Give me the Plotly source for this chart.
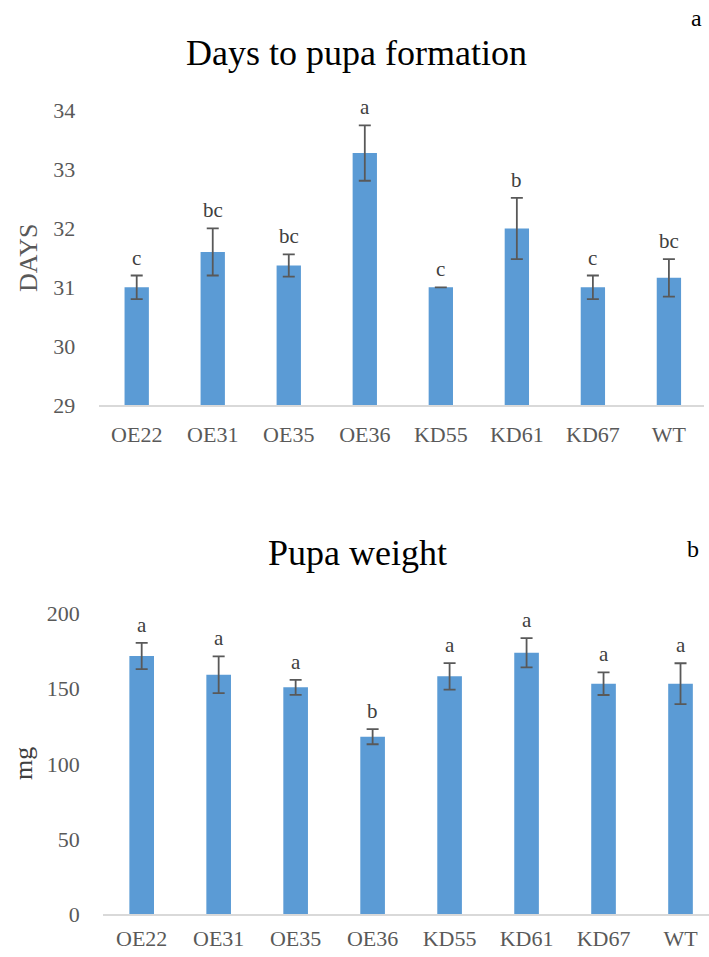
import plotly.graph_objects as go

categories = ["OE22", "OE31", "OE35", "OE36", "KD55", "KD61", "KD67", "WT"]

days_mean = [31.0, 31.6, 31.37, 33.28, 31.0, 32.0, 31.0, 31.16]
days_err = [0.2, 0.4, 0.19, 0.47, 0.0, 0.52, 0.2, 0.32]
days_letters = ["c", "bc", "bc", "a", "c", "b", "c", "bc"]

weight_mean = [171.6, 159.2, 150.8, 118.0, 158.1, 173.8, 153.2, 153.2]
weight_err = [8.7, 12.2, 5.0, 5.0, 8.8, 9.7, 7.5, 13.6]
weight_letters = ["a", "a", "a", "b", "a", "a", "a", "a"]

days_ticks = [29, 30, 31, 32, 33, 34]
weight_ticks = [0, 50, 100, 150, 200]

BLUE = "#5B9BD5"
ERR = "#595959"
TICK = "#595959"
SERIF = "Liberation Serif"
W, H = 709, 957

fig = go.Figure()

fig.add_trace(go.Bar(
    x=categories, y=days_mean, width=0.32, marker=dict(color=BLUE, line=dict(width=0)),
    error_y=dict(type="data", array=days_err, color=ERR, thickness=1.8, width=6, visible=True),
    xaxis="x", yaxis="y", showlegend=False))

fig.add_trace(go.Bar(
    x=categories, y=weight_mean, width=0.32, marker=dict(color=BLUE, line=dict(width=0)),
    error_y=dict(type="data", array=weight_err, color=ERR, thickness=1.8, width=6, visible=True),
    xaxis="x2", yaxis="y2", showlegend=False))


def fx(px):
    return px / W


def fy(py):
    return 1 - py / H


annotations = []
for c, m, e, t in zip(categories, days_mean, days_err, days_letters):
    annotations.append(dict(x=c, y=m + e, xref="x", yref="y", text=t, showarrow=False,
                            yanchor="bottom", yshift=4,
                            font=dict(family=SERIF, size=21, color="#404040")))
for c, m, e, t in zip(categories, weight_mean, weight_err, weight_letters):
    annotations.append(dict(x=c, y=m + e, xref="x2", yref="y2", text=t, showarrow=False,
                            yanchor="bottom", yshift=4,
                            font=dict(family=SERIF, size=21, color="#404040")))

annotations += [
    dict(text="Days to pupa formation", x=fx(356), y=fy(53), xref="paper", yref="paper",
         showarrow=False, xanchor="center", yanchor="middle",
         font=dict(family=SERIF, size=36, color="black")),
    dict(text="Pupa weight", x=fx(357), y=fy(553), xref="paper", yref="paper",
         showarrow=False, xanchor="center", yanchor="middle",
         font=dict(family=SERIF, size=36, color="black")),
    dict(text="a", x=fx(696), y=fy(18), xref="paper", yref="paper",
         showarrow=False, xanchor="center", yanchor="middle",
         font=dict(family=SERIF, size=24, color="black")),
    dict(text="b", x=fx(693), y=fy(549), xref="paper", yref="paper",
         showarrow=False, xanchor="center", yanchor="middle",
         font=dict(family=SERIF, size=24, color="black")),
    dict(text="DAYS", x=fx(28), y=fy(258), xref="paper", yref="paper", textangle=-90,
         showarrow=False, xanchor="center", yanchor="middle",
         font=dict(family=SERIF, size=26, color=TICK)),
    dict(text="mg", x=fx(23), y=fy(764), xref="paper", yref="paper", textangle=-90,
         showarrow=False, xanchor="center", yanchor="middle",
         font=dict(family=SERIF, size=26, color="#404040")),
]

xaxis_common = dict(
    showgrid=False, zeroline=False, showline=True, linecolor="#D9D9D9", linewidth=2,
    ticks="outside", tickcolor="rgba(0,0,0,0)", automargin=False,
    tickfont=dict(family=SERIF, size=22, color=TICK), fixedrange=True,
)
yaxis_common = dict(
    showgrid=False, zeroline=False, showline=False, automargin=False,
    ticks="outside", ticklen=18, tickcolor="rgba(0,0,0,0)",
    tickfont=dict(family=SERIF, size=22, color=TICK), fixedrange=True,
)

fig.update_layout(
    width=W, height=H,
    margin=dict(l=0, r=0, t=0, b=0, pad=0, autoexpand=False),
    paper_bgcolor="white", plot_bgcolor="white",
    font=dict(family=SERIF),
    xaxis=dict(domain=[fx(98.7), fx(703.5)], range=[-0.5, 7.455], anchor="y",
               ticklen=9, **xaxis_common),
    yaxis=dict(domain=[fy(405), fy(110.7)], range=[29, 34], tickvals=days_ticks,
               anchor="x", **yaxis_common),
    xaxis2=dict(domain=[fx(103.2), 1.0], range=[-0.5, 7.37], anchor="y2",
                ticklen=3, **xaxis_common),
    yaxis2=dict(domain=[fy(914.3), fy(613.3)], range=[0, 200], tickvals=weight_ticks,
                anchor="x2", **yaxis_common),
    annotations=annotations,
)

fig.write_html("out.html")
